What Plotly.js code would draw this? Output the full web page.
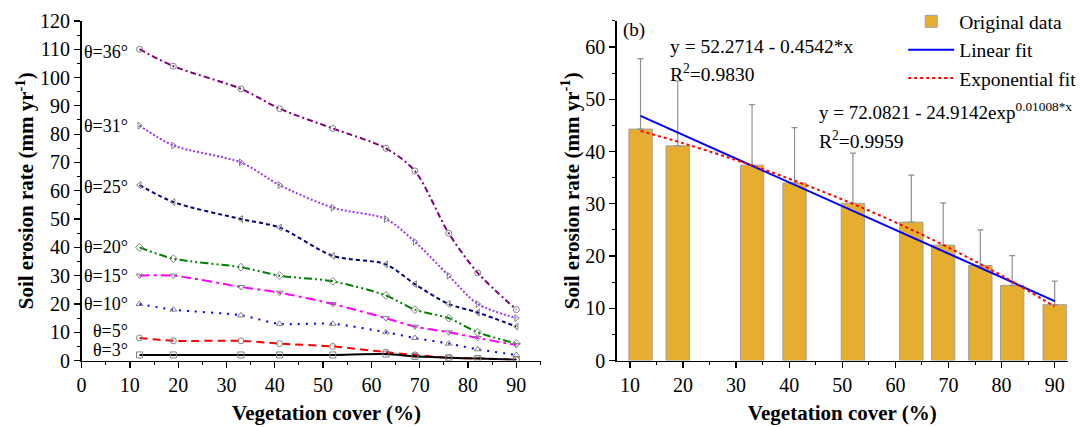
<!DOCTYPE html>
<html>
<head>
<meta charset="utf-8">
<script src="https://cdn.plot.ly/plotly-3.0.1.min.js"></script>
<style>html,body{margin:0;padding:0;background:#fff;}#chart{width:1083px;height:427px;}</style>
</head>
<body>
<div id="chart"></div>
<script>
// ---- Panel (a) data ----
var coverA = [12, 19, 33, 41, 52, 63, 69, 76, 82, 90];
var slopeLabels = ["θ=36°", "θ=31°", "θ=25°", "θ=20°", "θ=15°", "θ=10°", "θ=5°", "θ=3°"];
var theta36 = [110, 104, 96, 89, 82, 75, 67, 45, 31, 18];
var theta31 = [83, 76, 70, 62, 54, 50, 42, 30, 20, 15];
var theta25 = [62, 56, 50, 47, 37, 34, 27, 20, 17, 12];
var theta20 = [40, 36, 33, 30, 28, 23, 18, 15, 10, 6];
var theta15 = [30, 30, 26, 24, 20, 15, 12, 10, 8, 5.5];
var theta10 = [20, 18, 16, 13, 13, 10, 8, 6, 4, 2];
var theta5  = [8, 7, 7, 6, 5, 3, 2, 1, 0.8, 0.3];
var theta3  = [2, 2, 2, 2, 2, 2.3, 1.5, 1, 0.7, 0.3];
var labelY  = [109, 83, 61.5, 40, 30, 20, 10.3, 3.7];

// ---- Panel (b) data ----
var coverB = [12, 19, 33, 41, 52, 63, 69, 76, 82, 90];
var meanRate = [44.3, 41.1, 37.4, 34.0, 30.1, 26.5, 22.1, 18.2, 14.4, 10.7];
var errPlus  = [13.5, 12.4, 11.6, 10.6, 9.6, 9.0, 8.1, 6.8, 5.7, 4.5];
var linFitX = [12, 90];
var linFitY = [46.82, 11.39];
var expFitX = [12, 20, 30, 40, 50, 60, 70, 80, 90];
var expFitY = [43.96, 41.60, 38.37, 34.80, 30.84, 26.47, 21.63, 16.28, 10.36];

var FONT = "Liberation Serif";
var series = [theta36, theta31, theta25, theta20, theta15, theta10, theta5, theta3];
var colors = ["#800080", "#9933ff", "#000080", "#008000", "#ff00ff", "#0000ff", "#ff0000", "#000000"];
var dashes = ["6px,3px,2px,3px", "2px,2px", "4px,3px", "8px,3px,2px,3px,2px,3px", "10px,4px,3px,4px", "2px,6px", "8px,5px", "solid"];
var symbols = ["circle-open", "triangle-right-open", "triangle-left-open", "diamond-open", "triangle-down-open", "triangle-up-open", "circle-open", "square-open"];

var traces = [];
for (var i = 0; i < series.length; i++) {
  traces.push({
    x: coverA, y: series[i], type: "scatter", mode: "lines+markers",
    xaxis: "x", yaxis: "y", showlegend: false,
    line: {color: colors[i], width: 2, dash: dashes[i], shape: "spline", smoothing: 0.8},
    marker: {symbol: symbols[i], size: 6, color: "#808080", line: {width: 1, color: "#808080"}}
  });
}
traces.push({
  x: coverB, y: meanRate, type: "bar", xaxis: "x2", yaxis: "y2", name: "Original data",
  width: 4.4,
  marker: {color: "#e5ae30", line: {color: "#a0a0a0", width: 1}},
  error_y: {type: "data", array: errPlus, symmetric: false, arrayminus: errPlus.map(function(){return 0;}), color: "#909090", thickness: 1.2, width: 3}
});
traces.push({
  x: linFitX, y: linFitY, type: "scatter", mode: "lines", xaxis: "x2", yaxis: "y2",
  name: "Linear fit", line: {color: "#0000ff", width: 2}
});
traces.push({
  x: expFitX, y: expFitY, type: "scatter", mode: "lines", xaxis: "x2", yaxis: "y2",
  name: "Exponential fit", line: {color: "#ff0000", width: 2, dash: "3px,3px", shape: "spline"}
});

var annotations = [];
for (var j = 0; j < slopeLabels.length; j++) {
  annotations.push({x: 10, y: labelY[j], xref: "x", yref: "y", text: slopeLabels[j], showarrow: false,
    xanchor: "right", yanchor: "middle", font: {family: FONT, size: 18, color: "#000"}});
}
annotations.push({x: 1, y: 120.5, xref: "x", yref: "y", text: "(a)", showarrow: false, xanchor: "left", yanchor: "middle", font: {family: FONT, size: 19, color: "#000"}});
annotations.push({x: 8.3, y: 63.3, xref: "x2", yref: "y2", text: "(b)", showarrow: false, xanchor: "left", yanchor: "middle", font: {family: FONT, size: 19, color: "#000"}});
annotations.push({x: 17.1, y: 60.2, xref: "x2", yref: "y2", text: "y = 52.2714 - 0.4542*x", showarrow: false, xanchor: "left", yanchor: "middle", font: {family: FONT, size: 19.5, color: "#000"}});
annotations.push({x: 17.1, y: 55.0, xref: "x2", yref: "y2", text: "R<sup>2</sup>=0.9830", showarrow: false, xanchor: "left", yanchor: "middle", font: {family: FONT, size: 19.5, color: "#000"}});
annotations.push({x: 45.3, y: 47.8, xref: "x2", yref: "y2", text: "y = 72.0821 - 24.9142exp<sup>0.01008*x</sup>", showarrow: false, xanchor: "left", yanchor: "middle", font: {family: FONT, size: 19, color: "#000"}});
annotations.push({x: 45.3, y: 42.3, xref: "x2", yref: "y2", text: "R<sup>2</sup>=0.9959", showarrow: false, xanchor: "left", yanchor: "middle", font: {family: FONT, size: 19.5, color: "#000"}});
annotations.push({x: 50.6, y: 0.033, xref: "x", yref: "paper", text: "<b>Vegetation cover (%)</b>", showarrow: false, xanchor: "center", yanchor: "middle", font: {family: FONT, size: 21, color: "#000"}});

function ax(extra) {
  var o = {
    showline: true, linecolor: "#000", linewidth: 1.5, ticks: "outside", ticklen: 6, tickwidth: 1.3, tickcolor: "#000",
    showgrid: false, zeroline: false, mirror: false,
    tickfont: {family: FONT, size: 20, color: "#000"},
    minor: {ticks: "outside", ticklen: 3, tickwidth: 1, tickcolor: "#000", dtick: 5, showgrid: false}
  };
  for (var k in extra) o[k] = extra[k];
  return o;
}

function yTitle() { return {text: "<b>Soil erosion rate (mm yr<sup>-1</sup>)</b>", font: {family: FONT, size: 21, color: "#000"}, standoff: 0}; }
function xTitle() { return {text: "<b>Vegetation cover (%)</b>", font: {family: FONT, size: 21, color: "#000"}, standoff: 10}; }

var layout = {
  width: 1083, height: 427,
  margin: {l: 0, r: 0, t: 0, b: 0},
  font: {family: FONT, size: 20, color: "#000"},
  paper_bgcolor: "#fff", plot_bgcolor: "#fff",
  xaxis: ax({domain: [0.0753, 0.4991], range: [0, 95], dtick: 10, tick0: 0, anchor: "y"}),
  yaxis: ax({domain: [0.1555, 0.951], range: [0, 120], dtick: 10, tick0: 0, anchor: "x", title: yTitle()}),
  xaxis2: ax({domain: [0.5694, 0.9861], range: [7.5, 92.5], dtick: 10, tick0: 0, anchor: "y2", title: xTitle()}),
  yaxis2: ax({domain: [0.1555, 0.951], range: [0, 65], dtick: 10, tick0: 0, anchor: "x2", title: yTitle()}),
  showlegend: true,
  legend: {x: 0.834, y: 0.995, xanchor: "left", yanchor: "top", bgcolor: "rgba(0,0,0,0)",
    font: {family: FONT, size: 19.5, color: "#000"}, itemwidth: 46, tracegroupgap: 0},
  annotations: annotations
};

Plotly.newPlot("chart", traces, layout, {displayModeBar: false, staticPlot: true});
</script>
</body>
</html>
